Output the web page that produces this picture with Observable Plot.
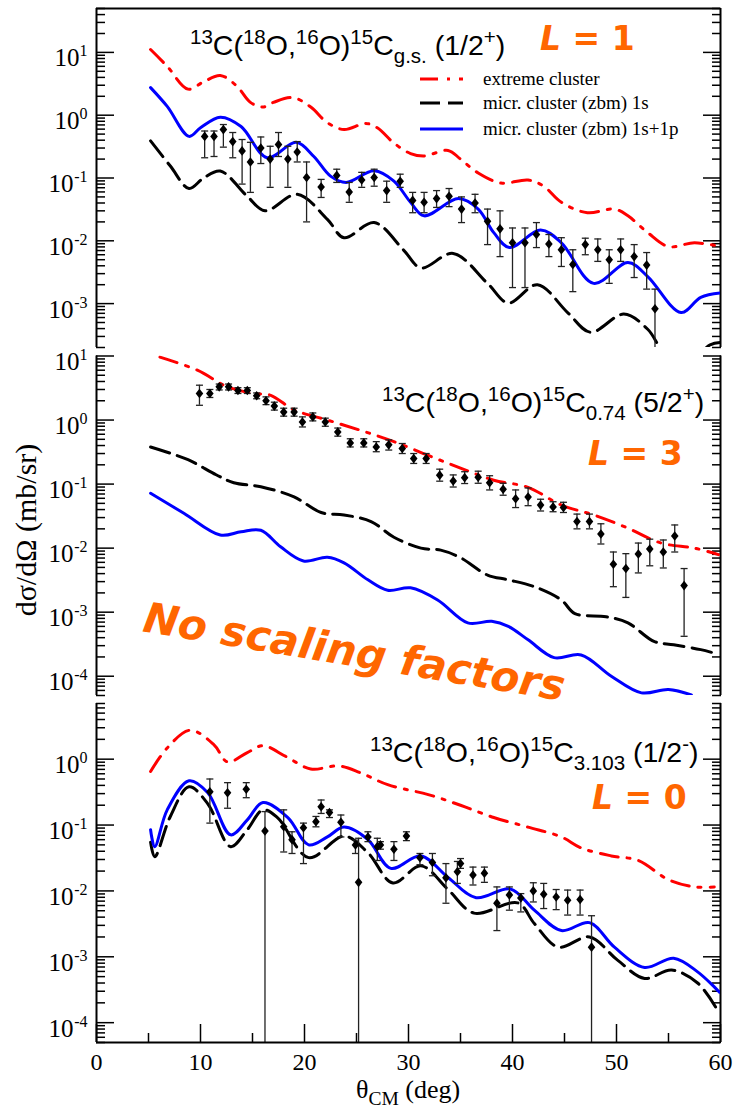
<!DOCTYPE html>
<html>
<head>
<meta charset="utf-8">
<script src="https://cdn.jsdelivr.net/npm/d3@7"></script>
<script src="https://cdn.jsdelivr.net/npm/@observablehq/plot@0.6"></script>
<style>
  html, body { margin: 0; padding: 0; background: #fff; }
  #chart { position: relative; width: 734px; height: 1110px; overflow: hidden; background: #fff; }
  #chart svg { position: absolute; left: 0; overflow: visible; background: transparent; }
  text { white-space: pre; }
</style>
</head>
<body>
<div id="chart"></div>
<script>
// ---------- shared axis ----------
const thetaDomain = [0, 60];
const thetaMajor = [0, 10, 20, 30, 40, 50, 60];
const thetaMinor = [5, 15, 25, 35, 45, 55];

// ---------- panel 1: 13C(18O,16O)15C g.s. (1/2+) ----------
const gsDecades = [1e-3, 1e-2, 1e-1, 1, 10];
const gsExtremeTheta = [5.2, 6.8, 8.8, 10.3, 11.9, 13.5, 14.8, 16.0, 17.0, 18.9, 20.6, 22.2, 23.8, 25.9, 27.0, 28.6, 30.2, 31.5, 33.8, 35.0, 36.7, 38.9, 41.5, 43.0, 44.7, 47.2, 49.8, 51.1, 53.0, 55.0, 57.5, 60.0];
const gsExtreme = [11.1, 6.0, 2.6, 3.4, 4.3, 2.9, 1.6, 1.35, 1.6, 1.9, 1.35, 0.76, 0.59, 0.74, 0.63, 0.36, 0.245, 0.224, 0.275, 0.2, 0.12, 0.083, 0.093, 0.074, 0.041, 0.028, 0.032, 0.025, 0.0135, 0.0081, 0.0093, 0.0081];
const gs1sTheta = [5.2, 7.1, 8.9, 10.3, 11.9, 14.5, 16.2, 19.3, 22.2, 23.8, 26.7, 29.5, 31.2, 34.3, 37.6, 39.6, 42.4, 45.3, 47.5, 50.7, 53.0, 54.5, 56.5, 59.0, 60.0];
const gs1s = [0.39, 0.155, 0.068, 0.1, 0.129, 0.051, 0.030, 0.055, 0.022, 0.0112, 0.0195, 0.0072, 0.0037, 0.0063, 0.0021, 0.00102, 0.002, 0.00072, 0.00035, 0.00068, 0.00039, 0.00017, 0.0001, 0.00022, 0.00024];
const gs1s1pTheta = [5.2, 6.8, 8.9, 10.0, 11.9, 13.9, 16.4, 19.2, 20.9, 22.5, 24.0, 26.7, 28.6, 30.2, 31.5, 34.8, 36.7, 38.2, 39.7, 42.7, 44.7, 47.8, 51.1, 53.0, 56.2, 58.1, 60.0];
const gs1s1p = [2.75, 1.38, 0.46, 0.63, 0.93, 0.66, 0.21, 0.37, 0.22, 0.107, 0.085, 0.13, 0.089, 0.041, 0.025, 0.047, 0.032, 0.0135, 0.0078, 0.0148, 0.0093, 0.0021, 0.0045, 0.0027, 0.00072, 0.00126, 0.00148];
const gsExpTheta = [10.4, 11.3, 12.2, 13.1, 14.0, 14.8, 15.8, 16.7, 17.5, 18.4, 19.3, 20.2, 21.6, 23.1, 24.3, 25.5, 26.7, 27.9, 29.2, 30.4, 31.5, 32.7, 33.9, 35.1, 36.4, 37.6, 38.8, 40.0, 41.2, 42.3, 43.5, 44.7, 45.8, 47.0, 48.2, 49.3, 50.4, 51.7, 52.9, 53.7];
const gsExp = [0.46, 0.46, 0.59, 0.38, 0.27, 0.18, 0.30, 0.20, 0.34, 0.20, 0.26, 0.102, 0.072, 0.11, 0.06, 0.093, 0.102, 0.063, 0.089, 0.044, 0.041, 0.047, 0.051, 0.032, 0.04, 0.0204, 0.0155, 0.0093, 0.0093, 0.0126, 0.0089, 0.0072, 0.0042, 0.0087, 0.0072, 0.005, 0.0072, 0.0056, 0.0041, 0.00083];
const gsExpLo = [0.21, 0.22, 0.31, 0.21, 0.08, 0.059, 0.17, 0.071, 0.22, 0.071, 0.18, 0.02, 0.049, 0.085, 0.041, 0.071, 0.074, 0.041, 0.071, 0.028, 0.028, 0.034, 0.035, 0.0195, 0.028, 0.0087, 0.0056, 0.0018, 0.0018, 0.0078, 0.0056, 0.0039, 0.00155, 0.006, 0.0047, 0.0021, 0.0047, 0.0026, 0.0017, 0.0001];
const gsExpHi = [0.56, 0.56, 0.71, 0.53, 0.41, 0.37, 0.45, 0.32, 0.53, 0.32, 0.38, 0.18, 0.095, 0.138, 0.085, 0.123, 0.138, 0.089, 0.115, 0.059, 0.059, 0.063, 0.068, 0.05, 0.055, 0.032, 0.03, 0.016, 0.016, 0.0195, 0.0126, 0.0112, 0.0072, 0.011, 0.0107, 0.0072, 0.0107, 0.0087, 0.0065, 0.0017];

// ---------- panel 2: 13C(18O,16O)15C 0.74 (5/2+) ----------
const e074Decades = [1e-4, 1e-3, 1e-2, 1e-1, 1, 10];
const e074ExtremeTheta = [6.1, 9.7, 12.6, 15.1, 16.7, 19.0, 22.2, 25.4, 28.6, 31.9, 35.0, 38.2, 41.5, 44.7, 47.8, 51.1, 54.3, 57.5, 59.8];
const e074Extreme = [9.6, 6.0, 3.3, 2.6, 2.45, 1.44, 1.0, 0.69, 0.46, 0.28, 0.178, 0.115, 0.089, 0.047, 0.033, 0.0205, 0.012, 0.01, 0.0079];
const e0741sTheta = [5.2, 8.8, 11.5, 13.2, 15.8, 19.0, 21.6, 23.8, 26.4, 28.6, 31.2, 33.1, 35.0, 37.6, 39.6, 42.1, 44.7, 46.0, 49.0, 51.1, 53.6, 55.5, 58.1, 59.8];
const e0741s = [0.38, 0.24, 0.14, 0.105, 0.091, 0.063, 0.036, 0.033, 0.026, 0.0148, 0.01, 0.0093, 0.0071, 0.0038, 0.0032, 0.0025, 0.00155, 0.00095, 0.00085, 0.00068, 0.00035, 0.00031, 0.00026, 0.00022];
const e0741s1pTheta = [5.2, 8.4, 11.9, 13.9, 15.8, 17.7, 19.9, 22.2, 23.8, 26.1, 28.0, 30.2, 32.8, 35.7, 38.0, 39.6, 41.5, 44.0, 46.6, 49.5, 52.4, 55.0, 57.2];
const e0741s1p = [0.072, 0.035, 0.016, 0.018, 0.019, 0.0105, 0.0063, 0.0072, 0.0059, 0.0032, 0.0022, 0.0024, 0.00155, 0.00068, 0.00072, 0.0006, 0.00037, 0.000195, 0.000215, 0.0001, 0.000055, 0.000062, 0.000051];
const e074ExpTheta = [9.9, 10.9, 11.8, 12.7, 13.6, 14.5, 15.4, 16.3, 17.1, 18.0, 19.0, 19.8, 20.8, 22.0, 23.2, 24.4, 25.7, 26.9, 28.1, 29.4, 30.5, 31.7, 33.0, 34.3, 35.4, 36.7, 37.8, 39.1, 40.3, 41.5, 42.7, 43.9, 44.9, 46.2, 47.4, 48.5, 49.7, 50.9, 52.1, 53.2, 54.5, 55.6, 56.5];
const e074Exp = [2.6, 2.6, 3.3, 3.3, 2.9, 2.9, 2.4, 2.0, 1.65, 1.33, 1.33, 0.93, 1.12, 0.93, 0.65, 0.44, 0.44, 0.38, 0.41, 0.36, 0.25, 0.25, 0.138, 0.112, 0.126, 0.128, 0.105, 0.083, 0.059, 0.063, 0.047, 0.044, 0.043, 0.026, 0.026, 0.0166, 0.0056, 0.0048, 0.0081, 0.0097, 0.0087, 0.0155, 0.0026];
const e074ExpLo = [1.7, 2.25, 2.95, 2.95, 2.6, 2.6, 2.15, 1.74, 1.43, 1.15, 1.15, 0.78, 0.97, 0.8, 0.56, 0.38, 0.38, 0.32, 0.34, 0.3, 0.21, 0.21, 0.111, 0.09, 0.102, 0.103, 0.081, 0.067, 0.043, 0.046, 0.038, 0.037, 0.036, 0.02, 0.02, 0.0116, 0.0025, 0.0017, 0.0041, 0.0053, 0.0049, 0.0087, 0.00042];
const e074ExpHi = [3.5, 3.0, 3.65, 3.65, 3.2, 3.2, 2.65, 2.3, 1.9, 1.53, 1.53, 1.12, 1.29, 1.07, 0.75, 0.51, 0.51, 0.46, 0.49, 0.43, 0.3, 0.3, 0.171, 0.139, 0.156, 0.159, 0.135, 0.103, 0.081, 0.087, 0.058, 0.053, 0.052, 0.034, 0.034, 0.024, 0.0087, 0.0082, 0.012, 0.0138, 0.0134, 0.023, 0.0048];

// ---------- panel 3: 13C(18O,16O)15C 3.103 (1/2-) ----------
const e3103Decades = [1e-4, 1e-3, 1e-2, 1e-1, 1];
const e3103ExtremeTheta = [5.2, 6.8, 9.0, 11.3, 12.6, 14.5, 16.0, 18.2, 20.6, 23.3, 25.4, 28.0, 31.9, 35.0, 38.2, 41.5, 44.7, 46.6, 49.5, 52.1, 55.0, 57.5, 59.4];
const e3103Extreme = [0.65, 1.48, 2.75, 1.65, 0.91, 1.26, 1.6, 1.1, 0.71, 0.79, 0.62, 0.41, 0.29, 0.2, 0.13, 0.093, 0.066, 0.045, 0.034, 0.029, 0.0148, 0.0115, 0.0115];
const e31031sTheta = [5.2, 5.6, 7.1, 8.9, 10.7, 12.9, 14.5, 16.0, 17.4, 20.4, 23.8, 26.1, 28.5, 31.2, 33.8, 36.3, 40.5, 42.1, 44.4, 47.4, 50.1, 52.7, 55.3, 57.8, 59.6];
const e31031s = [0.055, 0.033, 0.135, 0.38, 0.21, 0.047, 0.085, 0.17, 0.13, 0.032, 0.068, 0.038, 0.0132, 0.024, 0.0105, 0.0046, 0.0066, 0.0032, 0.0014, 0.002, 0.00089, 0.00047, 0.00063, 0.0004, 0.000166];
const e31031s1pTheta = [5.2, 5.6, 6.8, 8.9, 10.7, 12.9, 14.5, 16.0, 18.4, 20.4, 22.2, 23.8, 26.1, 28.3, 31.2, 33.8, 36.5, 39.8, 42.1, 44.7, 47.4, 49.8, 52.7, 55.5, 57.8, 59.9];
const e31031s1p = [0.085, 0.047, 0.17, 0.47, 0.31, 0.071, 0.12, 0.22, 0.13, 0.05, 0.066, 0.093, 0.06, 0.022, 0.034, 0.016, 0.0079, 0.0107, 0.0051, 0.0025, 0.0033, 0.0014, 0.00069, 0.00095, 0.00059, 0.00029];
const e3103ExpTheta = [10.9, 12.6, 14.4, 16.2, 18.0, 18.8, 19.9, 21.1, 21.6, 22.4, 23.5, 24.9, 25.2, 26.1, 27.0, 27.3, 28.6, 29.8, 31.1, 32.3, 33.6, 34.7, 35.0, 36.2, 37.3, 38.5, 39.7, 40.8, 42.0, 43.0, 44.2, 45.3, 46.5, 47.6];
const e3103Exp = [0.32, 0.31, 0.35, 0.081, 0.094, 0.06, 0.091, 0.112, 0.19, 0.155, 0.11, 0.05, 0.0135, 0.066, 0.047, 0.05, 0.043, 0.068, 0.032, 0.027, 0.0158, 0.0195, 0.026, 0.0174, 0.0186, 0.0065, 0.0087, 0.0078, 0.01, 0.0089, 0.0081, 0.0072, 0.0074, 0.0014];
const e3103ExpLo = [0.107, 0.18, 0.26, 1e-7, 0.039, 0.037, 0.026, 0.094, 0.15, 0.13, 0.066, 0.037, 1e-7, 0.056, 0.029, 0.043, 0.029, 0.058, 0.025, 0.017, 0.0065, 0.013, 0.022, 0.0123, 0.0135, 0.0025, 0.0051, 0.0048, 0.0068, 0.0054, 0.0052, 0.0043, 0.0043, 1e-7];
const e3103ExpHi = [0.5, 0.44, 0.44, 0.16, 0.17, 0.079, 0.107, 0.135, 0.24, 0.17, 0.142, 0.059, 0.063, 0.079, 0.063, 0.056, 0.056, 0.079, 0.037, 0.037, 0.026, 0.028, 0.031, 0.023, 0.023, 0.0115, 0.0115, 0.0091, 0.0133, 0.013, 0.0105, 0.0103, 0.0103, 0.0042];

// ---------- styling ----------
const serif = "Liberation Serif, Times New Roman, serif";
const sans = "Liberation Sans, Arial, sans-serif";
const orange = "#ff6600";
const series = {
  extreme: {stroke: "#ff0000", strokeWidth: 3, strokeDasharray: "18,9,3,9"},
  s1: {stroke: "#000000", strokeWidth: 3, strokeDasharray: "20,8"},
  s1p: {stroke: "#0000ff", strokeWidth: 3}
};

// small symbols: horizontal error-bar cap and filled diamond marker
const capSymbol = {draw(ctx) { ctx.moveTo(-3.5, 0); ctx.lineTo(3.5, 0); }};
const diamondSymbol = {draw(ctx) { ctx.moveTo(0, -4.8); ctx.lineTo(3.8, 0); ctx.lineTo(0, 4.8); ctx.lineTo(-3.8, 0); ctx.closePath(); }};

const pairs = (xs, ys) => xs.map((x, i) => ({x, y: ys[i]}));
const points = (xs, ys, lo, hi) => xs.map((x, i) => ({x, y: ys[i], lo: lo[i], hi: hi[i]}));

function minorLogTicks([lo, hi]) {
  const out = [];
  for (let e = Math.floor(Math.log10(lo)); e <= Math.ceil(Math.log10(hi)); e++)
    for (let k = 2; k <= 9; k++) {
      const v = k * Math.pow(10, e);
      if (v >= lo * 0.999 && v <= hi * 1.001) out.push(v);
    }
  return out;
}

function panel({height, marginTop, marginBottom, yDomain, decades, extreme, s1, s1p, exp, topRule, xAxis}) {
  const minors = minorLogTicks(yDomain);
  const expSign = (d) => Math.round(Math.log10(d)) < 0;
  const marks = [
    // frame sides
    Plot.ruleX(thetaDomain, {stroke: "black", strokeWidth: 2}),
    // inward ticks, left and right
    Plot.axisY(decades, {anchor: "left", tickSize: 18, dx: 18, tickFormat: () => "", label: null, strokeWidth: 1.5}),
    Plot.axisY(minors, {anchor: "left", tickSize: 9, dx: 9, tickFormat: () => "", label: null, strokeWidth: 1.5}),
    Plot.axisY(decades, {anchor: "right", tickSize: 18, dx: -18, tickFormat: () => "", label: null, strokeWidth: 1.5}),
    Plot.axisY(minors, {anchor: "right", tickSize: 9, dx: -9, tickFormat: () => "", label: null, strokeWidth: 1.5}),
    // tick labels 10^n
    Plot.text(decades.filter((d) => !expSign(d)), {y: (d) => d, frameAnchor: "left", text: () => "10", textAnchor: "end", lineAnchor: "bottom", dx: -17, dy: 14, fontSize: 25, fontFamily: serif}),
    Plot.text(decades.filter(expSign), {y: (d) => d, frameAnchor: "left", text: () => "10", textAnchor: "end", lineAnchor: "bottom", dx: -23, dy: 14, fontSize: 25, fontFamily: serif}),
    Plot.text(decades, {y: (d) => d, frameAnchor: "left", text: (d) => String(Math.round(Math.log10(d))), textAnchor: "end", lineAnchor: "bottom", dx: -9, dy: 4, fontSize: 16, fontFamily: serif}),
    // model curves
    Plot.line(extreme, {x: "x", y: "y", curve: "catmull-rom", clip: true, ...series.extreme}),
    Plot.line(s1, {x: "x", y: "y", curve: "catmull-rom", clip: true, ...series.s1}),
    Plot.line(s1p, {x: "x", y: "y", curve: "catmull-rom", clip: true, ...series.s1p}),
    // data with error bars
    Plot.ruleX(exp, {x: "x", y1: "lo", y2: "hi", stroke: "#222", strokeWidth: 1.3, clip: true}),
    Plot.dot(exp, {x: "x", y: "hi", symbol: capSymbol, r: 3, fill: "none", stroke: "#222", strokeWidth: 1.3}),
    Plot.dot(exp.filter((d) => d.lo > yDomain[0]), {x: "x", y: "lo", symbol: capSymbol, r: 3, fill: "none", stroke: "#222", strokeWidth: 1.3}),
    Plot.dot(exp, {x: "x", y: "y", symbol: diamondSymbol, r: 4, fill: "black", stroke: "none"})
  ];
  if (topRule) marks.push(Plot.ruleY([yDomain[1]], {stroke: "black", strokeWidth: 2}));
  if (xAxis) {
    marks.push(
      Plot.ruleY([yDomain[0]], {stroke: "black", strokeWidth: 2}),
      Plot.axisX(thetaMajor, {anchor: "bottom", tickSize: 18, dy: -18, tickFormat: () => "", label: null, strokeWidth: 1.5}),
      Plot.axisX(thetaMinor, {anchor: "bottom", tickSize: 9, dy: -9, tickFormat: () => "", label: null, strokeWidth: 1.5}),
      Plot.axisX(thetaMajor, {anchor: "bottom", tickSize: 0, tickPadding: 10, label: null, fontSize: 24, fontFamily: serif, tickFormat: (d) => String(d)})
    );
  }
  return Plot.plot({
    width: 734, height, marginLeft: 96, marginRight: 14, marginTop, marginBottom,
    style: {fontFamily: serif, background: "transparent", overflow: "visible"},
    x: {domain: thetaDomain, ...(xAxis ? {} : {axis: null})},
    y: {type: "log", domain: yDomain},
    marks
  });
}

const chart = document.getElementById("chart");
function place(svg, top) { svg.style.top = top + "px"; chart.appendChild(svg); }

place(panel({
  height: 347, marginTop: 8, marginBottom: 0, yDomain: [2e-4, 50], decades: gsDecades,
  extreme: pairs(gsExtremeTheta, gsExtreme), s1: pairs(gs1sTheta, gs1s), s1p: pairs(gs1s1pTheta, gs1s1p),
  exp: points(gsExpTheta, gsExp, gsExpLo, gsExpHi), topRule: true
}), 0);
place(panel({
  height: 348, marginTop: 8.5, marginBottom: 0, yDomain: [5e-5, 10], decades: e074Decades,
  extreme: pairs(e074ExtremeTheta, e074Extreme), s1: pairs(e0741sTheta, e0741s), s1p: pairs(e0741s1pTheta, e0741s1p),
  exp: points(e074ExpTheta, e074Exp, e074ExpLo, e074ExpHi)
}), 347);
place(panel({
  height: 415, marginTop: 8, marginBottom: 68, yDomain: [5e-5, 7], decades: e3103Decades,
  extreme: pairs(e3103ExtremeTheta, e3103Extreme), s1: pairs(e31031sTheta, e31031s), s1p: pairs(e31031s1pTheta, e31031s1p),
  exp: points(e3103ExpTheta, e3103Exp, e3103ExpLo, e3103ExpHi), xAxis: true
}), 695);

// ---------- annotations ----------
const overlay = d3.create("svg").attr("width", 734).attr("height", 1110).style("top", "0px");
chart.appendChild(overlay.node());

function rich(x, y, parts, {size, family, fill = "black", anchor = "start", scale = 0.68, weight = "normal"}) {
  const t = overlay.append("text").attr("x", x).attr("y", y).attr("font-family", family)
    .attr("font-size", size).attr("fill", fill).attr("text-anchor", anchor).attr("font-weight", weight);
  let cur = 0;
  for (const [s, mode, style] of parts) {
    const target = mode === 1 ? -size * 0.4 : mode === -1 ? size * 0.27 : 0;
    const ts = t.append("tspan").attr("dy", target - cur).attr("font-size", mode ? size * scale : size).text(s);
    if (style) ts.attr("font-style", style);
    cur = target;
  }
  return t;
}

const reaction = [["13", 1], ["C(", 0], ["18", 1], ["O,", 0], ["16", 1], ["O)", 0], ["15", 1], ["C", 0]];
const titleFont = {size: 28.5, family: sans, scale: 0.72};
rich(190, 55, [...reaction, ["g.s.", -1], [" (1/2", 0], ["+", 1], [")", 0]], titleFont);
rich(382, 412, [...reaction, ["0.74", -1], [" (5/2", 0], ["+", 1], [")", 0]], titleFont);
rich(370, 762, [...reaction, ["3.103", -1], [" (1/2", 0], ["-", 1], [")", 0]], titleFont);

const lFont = "DejaVu Sans, Verdana, sans-serif";
const lStyle = {size: 33, family: lFont, fill: orange, weight: "bold"};
rich(540, 50, [["L", 0, "italic"], [" = 1", 0]], lStyle);
rich(588, 465, [["L", 0, "italic"], [" = 3", 0]], lStyle);
rich(592, 809, [["L", 0, "italic"], [" = 0", 0]], lStyle);

overlay.append("text")
  .attr("transform", "translate(352,666) rotate(9.4)")
  .attr("text-anchor", "middle").attr("font-family", lFont).attr("font-weight", "bold")
  .attr("font-style", "italic").attr("font-size", 42).attr("fill", orange)
  .text("No scaling factors");

// legend
const legendItems = [
  {label: "extreme cluster", ...series.extreme},
  {label: "micr. cluster (zbm) 1s", ...series.s1},
  {label: "micr. cluster (zbm) 1s+1p", ...series.s1p}
];
const legendY = [79, 103, 129];
legendItems.forEach((d, i) => {
  overlay.append("line").attr("x1", 420).attr("x2", 463).attr("y1", legendY[i]).attr("y2", legendY[i])
    .attr("stroke", d.stroke).attr("stroke-width", d.strokeWidth).attr("stroke-dasharray", d.strokeDasharray || null);
  overlay.append("text").attr("x", 483).attr("y", legendY[i] + 6).attr("font-family", serif)
    .attr("font-size", 19).text(d.label);
});

// axis titles
overlay.append("text").attr("transform", "translate(36,530) rotate(-90)").attr("text-anchor", "middle")
  .attr("font-family", serif).attr("font-size", 30).text("dσ/dΩ (mb/sr)");
rich(408, 1098, [["θ", 0], ["CM", -1], [" (deg)", 0]], {size: 26, family: serif, anchor: "middle", scale: 0.75});
</script>
</body>
</html>
